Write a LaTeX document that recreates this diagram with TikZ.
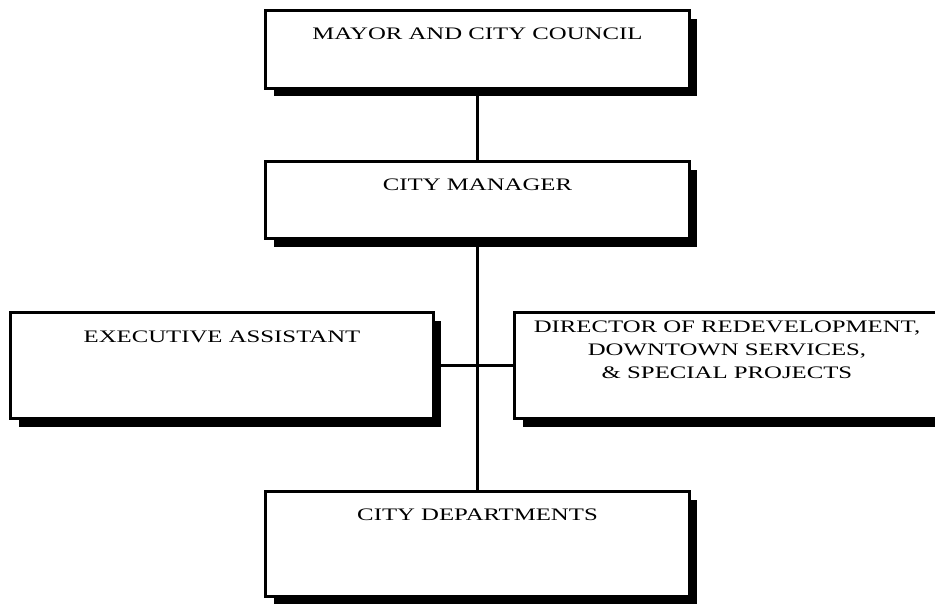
\documentclass[tikz,border=0pt]{standalone}
\usepackage{fontspec}
\setmainfont{Liberation Serif}
\newfontfamily\chartfont[FakeStretch=1.41]{Liberation Serif}
\usetikzlibrary{shadows}

\begin{document}
\begin{tikzpicture}[x=0.02cm,y=-0.02cm,line width=1.7pt,
    office/.style={draw,fill=white,inner sep=0pt,minimum width=8.48cm,
      drop shadow={opacity=1,fill=black,shadow xshift=0.16cm,shadow yshift=-0.16cm}},
    title/.style={anchor=north,inner sep=0pt,align=center,
      font=\chartfont\fontsize{10}{13}\selectfont}]

  \useasboundingbox (0,0) rectangle (935,603);

  % Boxes
  \node[office,minimum height=1.56cm] (mayor) at (477.5,49.5) {};
  \node[office,minimum height=1.54cm] (manager) at (477.5,200) {};
  \node[office,minimum width=8.46cm,minimum height=2.12cm] (assistant) at (222,365.5) {};
  \node[office,minimum width=8.5cm,minimum height=2.12cm] (director) at (727,365.5) {};
  \node[office,minimum height=2.1cm] (departments) at (477.5,544) {};

  % Titles
  \node[title] (mayortext) at ([yshift=-0.35cm]mayor.north) {MAYOR AND CITY COUNCIL};
  \node[title] (managertext) at ([yshift=-0.35cm]manager.north) {CITY MANAGER};
  \node[title] (assistanttext) at ([yshift=-0.37cm]assistant.north) {EXECUTIVE ASSISTANT};
  \node[title] (directortext) at ([yshift=-0.17cm]director.north)
    {DIRECTOR OF REDEVELOPMENT,\\ DOWNTOWN SERVICES,\\ \& SPECIAL PROJECTS};
  \node[title] (departmentstext) at ([yshift=-0.35cm]departments.north) {CITY DEPARTMENTS};

  % Lines
  \draw (mayor) -- (manager);
  \draw (manager) -- (departments);
  \draw (assistant) -- (director);

\end{tikzpicture}
\end{document}
